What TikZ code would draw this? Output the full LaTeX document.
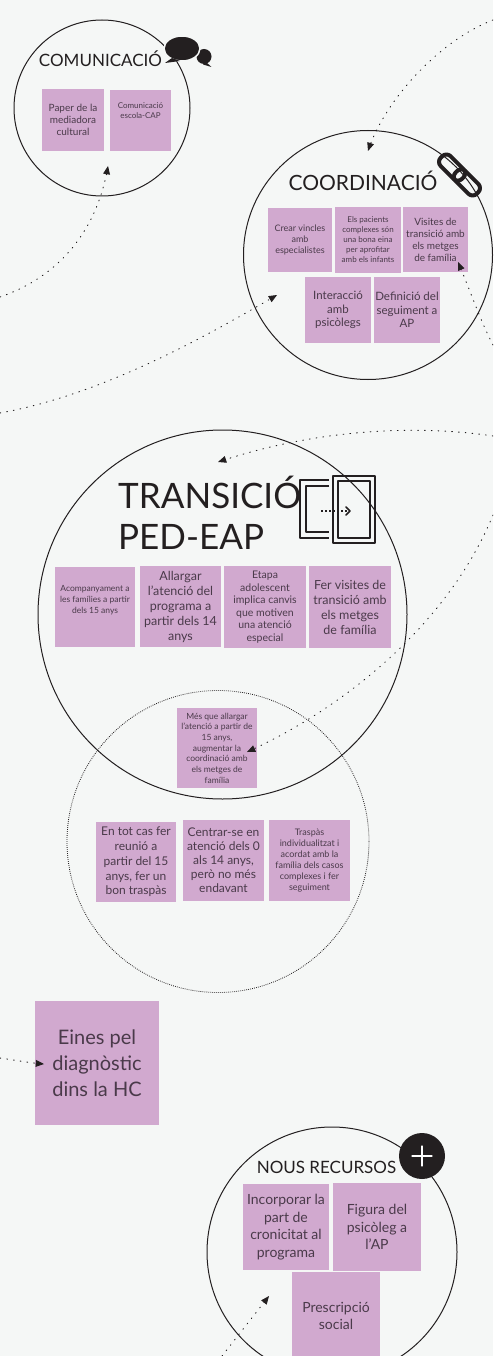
\documentclass[tikz,border=0pt]{standalone}
\usepackage{fontspec}
\setmainfont{Lato}
\usepackage{tikz}
\usetikzlibrary{arrows}
\definecolor{bgcol}{HTML}{F5F7F6}
\definecolor{postitcol}{HTML}{D1A9CF}
\definecolor{inkcol}{HTML}{231F20}
\definecolor{posttextcol}{HTML}{4A3A4A}
\newcommand{\fsz}[2]{\fontsize{#1}{#2}\selectfont}
\tikzset{
  postit/.style={fill=postitcol,text=posttextcol,align=center,inner sep=0pt},
  bigcircle/.style={draw=inkcol,line width=1pt},
  titletext/.style={text=inkcol,inner sep=0pt,align=left},
  dotarrow/.style={->,draw=inkcol,line width=0.9pt,dash pattern=on 0.8pt off 6pt},
}
\begin{document}
\begin{tikzpicture}[line cap=round,line join=round,>=triangle 45,x=1pt,y=-1pt]
        \useasboundingbox (0,0) rectangle (493,1356);
        \clip (0,0) rectangle (493,1356);
        \fill [bgcol] (0,0) rectangle (493,1356);
        % circles
        \draw [bigcircle] (102,108) circle (88);
        \draw [bigcircle] (368,255) circle (124.5);
        \draw [bigcircle] (222.5,614.5) circle (184.5);
        \draw [draw=inkcol,line width=0.8pt,dash pattern=on 0.8pt off 1.2pt,line cap=butt] (218,841.5) circle (151);
        \draw [bigcircle] (332,1252) circle (125);
        % titles
        \node [titletext,font=\fsz{17}{20}] (comtitle) at (100.5,59) {COMUNICACIÓ};
        \node [titletext,font=\fsz{21}{25}] (coordtitle) at (363,181) {COORDINACIÓ};
        \node [titletext,anchor=west,font=\fsz{35}{41}] (transtitle) at (118,513) {TRANSICIÓ\\PED-EAP};
        \node [titletext,font=\fsz{17}{20}] (noustitle) at (326.5,1167) {NOUS RECURSOS};
        % comunicacio
        \node [postit,minimum width=62,minimum height=62,font=\fsz{10}{12.3}] (paper) at (73,120) {Paper de la\\mediadora\\cultural};
        \node [postit,minimum width=61,minimum height=61,font=\fsz{8}{10}] (escola) at (140.5,120.5) {Comunicació\\escola-CAP\\[10pt]};
        % coordinacio
        \node [postit,minimum width=64,minimum height=64,font=\fsz{9}{11}] (vincles) at (300,240) {Crear vincles\\amb\\especialistes};
        \node [postit,minimum width=66,minimum height=66,font=\fsz{8}{10}] (pacients) at (368,240) {Els pacients\\complexes són\\una bona eina\\per aprofitar\\amb els infants};
        \node [postit,minimum width=65,minimum height=65,font=\fsz{10}{12}] (visites) at (435.5,239.5) {Visites de\\transició amb\\els metges\\de família};
        \node [postit,minimum width=66,minimum height=66,font=\fsz{11.5}{13.7}] (psicolegs) at (338,310) {Interacció\\amb\\psicòlegs};
        \node [postit,minimum width=66,minimum height=66,font=\fsz{11.5}{13.7}] (seguiment) at (407,310) {Definició del\\seguiment a\\AP};
        % transicio
        \node [postit,minimum width=80,minimum height=80,font=\fsz{8.5}{11}] (acomp) at (95,607) {Acompanyament a\\les famílies a partir\\dels 15 anys\\[4pt]};
        \node [postit,minimum width=81,minimum height=81,font=\fsz{12.5}{15}] (allargar) at (180.5,606.5) {Allargar\\l'atenció del\\programa a\\partir dels 14\\anys};
        \node [postit,minimum width=82,minimum height=82,font=\fsz{10.5}{12.5}] (etapa) at (265,607) {Etapa\\adolescent\\implica canvis\\que motiven\\una atenció\\especial};
        \node [postit,minimum width=82,minimum height=82,font=\fsz{12.5}{15}] (fervisites) at (350,607) {Fer visites de\\transició amb\\els metges\\de família};
        \node [postit,minimum width=80,minimum height=80,font=\fsz{8.5}{10.7}] (mesque) at (217,748) {Més que allargar\\l'atenció a partir de\\15 anys,\\augmentar la\\coordinació amb\\els metges de\\família};
        % punt dotted circle
        \node [postit,minimum width=80,minimum height=80,font=\fsz{12}{14.7}] (reunio) at (136,862) {En tot cas fer\\reunió a\\partir del 15\\anys, fer un\\bon traspàs};
        \node [postit,minimum width=81,minimum height=81,font=\fsz{12}{14}] (centrar) at (223.5,860.5) {Centrar-se en\\atenció dels 0\\als 14 anys,\\però no més\\endavant};
        \node [postit,minimum width=81,minimum height=81,font=\fsz{9}{11}] (traspas) at (309.5,860.5) {Traspàs\\individualitzat i\\acordat amb la\\família dels casos\\complexes i fer\\seguiment};
        % eines
        \node [postit,minimum width=124,minimum height=124,font=\fsz{20}{26}] (eines) at (97,1063) {Eines pel\\diagnòstic\\dins la HC};
        % nous recursos
        \node [postit,minimum width=86,minimum height=86,font=\fsz{14}{17.7}] (cronicitat) at (286,1227) {Incorporar la\\part de\\cronicitat al\\programa};
        \node [postit,minimum width=88,minimum height=88,font=\fsz{14}{17.7}] (figura) at (377,1227) {Figura del\\psicòleg a\\l'AP};
        \node [postit,minimum width=88,minimum height=88,font=\fsz{14}{17}] (prescripcio) at (336,1316) {Prescripció\\social};
        % icon bubbles
        \fill [inkcol] (204,56.5) ellipse (7.5 and 7.5);
        \fill [inkcol] (206,62) -- (211.5,67) -- (203,64.5) -- cycle;
        \draw [bgcol,line width=1.5pt,fill=inkcol] (182,48.5) ellipse (18 and 12.5);
        \fill [inkcol] (172,58) -- (165,63) -- (180,61) -- cycle;
        % icon chain
        \begin{scope}[rotate around={-45:(459.5,175)}]
          \draw [inkcol,line width=4pt,rounded corners=6pt] (434,168) rectangle (464,182);
          \draw [inkcol,line width=4pt,rounded corners=6pt] (455,168) rectangle (485,182);
        \end{scope}
        % icon door
        \draw [inkcol,line width=2pt,line cap=butt] (329,480) -- (300,480) -- (300,538) -- (329,538);
        \draw [inkcol,line width=2pt,line cap=butt] (329,486) -- (306,486) -- (306,532) -- (329,532);
        \draw [inkcol,line width=2pt] (333,476) rectangle (375,543);
        \draw [inkcol,line width=2pt] (338,481) rectangle (370,538);
        \draw [inkcol,line width=2.5pt,dash pattern=on 2pt off 2pt,line cap=butt] (321,511) -- (348,511);
        \draw [inkcol,line width=1.5pt] (346,507) -- (350,511) -- (346,515);
        % icon plus
        \fill [inkcol] (422,1156) circle (23);
        \draw [white,line width=1.2pt] (412,1156) -- (432,1156);
        \draw [white,line width=1.2pt] (422,1146) -- (422,1166);
        % dotted arrows
        \coordinate (start1) at (0,297);
        \coordinate (end1) at (108,166);
        \coordinate (start2) at (493,20);
        \coordinate (end2) at (368,151);
        \coordinate (start3) at (0,413);
        \coordinate (end3) at (277,295);
        \coordinate (start4) at (493,345);
        \coordinate (end4) at (458,262);
        \coordinate (start5) at (493,436);
        \coordinate (end5) at (218,462);
        \coordinate (start6) at (493,515);
        \coordinate (end6) at (247,752);
        \coordinate (start7) at (0,1058);
        \coordinate (end7) at (44,1064);
        \coordinate (start8) at (222,1356);
        \coordinate (end8) at (269,1296);
        \draw [dotarrow] (start1) .. controls (50,280) and (95,240) .. (end1);
        \draw [dotarrow] (start2) .. controls (440,40) and (385,100) .. (end2);
        \draw [dotarrow] (start3) .. controls (100,395) and (200,340) .. (end3);
        \draw [dotarrow] (start4) .. controls (480,320) and (470,290) .. (end4);
        \draw [dotarrow] (start5) .. controls (420,425) and (320,428) .. (end5);
        \draw [dotarrow] (start6) .. controls (450,620) and (350,705) .. (end6);
        \draw [dotarrow] (start7) .. controls (15,1060) and (30,1063) .. (end7);
        \draw [dotarrow] (start8) -- (end8);
\end{tikzpicture}
\end{document}
